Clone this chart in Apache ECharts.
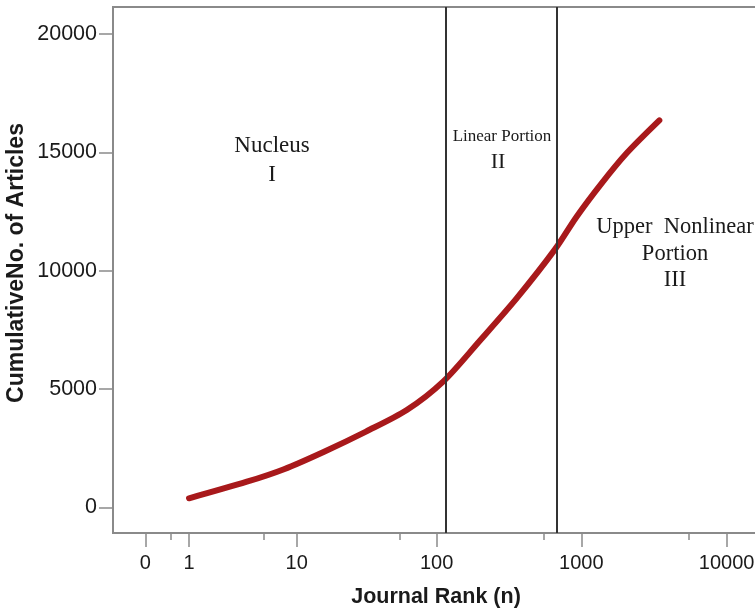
<!DOCTYPE html>
<html>
<head>
<meta charset="utf-8">
<script src="https://cdn.jsdelivr.net/npm/echarts@6/dist/echarts.min.js"></script>
<style>html,body{margin:0;padding:0;background:#fff;}#c{width:755px;height:608px;}</style>
</head>
<body>
<div id="c"></div>
<script>
// Journal rank (n) and cumulative number of articles
const ranks = [1, 4, 8, 16, 32, 62, 111, 200, 359, 660, 930, 1383, 2055, 3443];
const articles = [380, 1080, 1610, 2350, 3200, 4110, 5310, 7050, 8840, 10910, 12290, 13700, 14970, 16350];
const xTickLabels = [0, 1, 10, 100, 1000, 10000];
const xMinorTicks = [0.5, 5.5, 55, 550, 5500];
const yTickLabels = [0, 5000, 10000, 15000, 20000];
const zoneBoundaries = [116, 670];
const xAxisTitle = 'Journal Rank (n)';
const yAxisTitle = 'CumulativeNo. of Articles';

const t = n => Math.log10(n + 1);
const seriesData = ranks.map((r, i) => [t(r), articles[i]]);

const chart = echarts.init(document.getElementById('c'), null, {renderer: 'canvas'});
const axisColor = '#8a8a8a';
const labelFont = {fontFamily: 'Liberation Sans, Arial, sans-serif', fontSize: 20, color: '#1a1a1a'};
const xMin = -0.2222, xMax = 4.3329;

chart.setOption({
  animation: false,
  backgroundColor: '#ffffff',
  grid: {left: 113, right: -20, top: 7, bottom: 75, containLabel: false, outerBoundsMode: 'none',
         show: true, borderColor: axisColor, borderWidth: 2},
  xAxis: [{
    type: 'value', min: xMin, max: xMax, position: 'bottom',
    axisLine: {show: true, onZero: false, lineStyle: {color: axisColor, width: 2}},
    axisTick: {show: true, length: 14, customValues: xTickLabels.map(t), lineStyle: {color: axisColor, width: 1.5}},
    axisLabel: Object.assign({margin: 20, customValues: xTickLabels.map(t),
      formatter: v => String(Math.round(Math.pow(10, v) - 1))}, labelFont),
    splitLine: {show: false}
  }, {
    type: 'value', min: xMin, max: xMax, position: 'bottom',
    axisLine: {show: false, onZero: false},
    axisTick: {show: true, length: 7, customValues: xMinorTicks.map(t), lineStyle: {color: axisColor, width: 1.5}},
    axisLabel: {show: false},
    splitLine: {show: false}
  }],
  yAxis: {
    type: 'value', min: -1087, max: 21142,
    axisLine: {show: true, onZero: false, lineStyle: {color: axisColor, width: 2}},
    axisTick: {show: true, length: 14, customValues: yTickLabels, lineStyle: {color: axisColor, width: 1.5}},
    axisLabel: Object.assign({margin: 16, customValues: yTickLabels, formatter: v => String(v)}, labelFont, {fontSize: 21.5}),
    splitLine: {show: false}
  },
  series: [{
    type: 'line', xAxisIndex: 0, data: seriesData, smooth: 0.3, symbol: 'none',
    lineStyle: {color: '#a8191b', width: 6, cap: 'round'},
    z: 3,
    markLine: {
      silent: true, symbol: 'none', label: {show: false},
      lineStyle: {color: '#333333', width: 2, type: 'solid'},
      data: zoneBoundaries.map(b => ({xAxis: t(b)}))
    }
  }],
  graphic: [
    {type: 'text', x: 436, y: 597, style: {text: xAxisTitle, align: 'center', verticalAlign: 'middle',
      font: 'bold 21.5px "Liberation Sans", Arial, sans-serif', fill: '#1a1a1a'}},
    {type: 'text', x: 17, y: 263, rotation: Math.PI / 2, style: {text: yAxisTitle, align: 'center', verticalAlign: 'middle',
      font: 'bold 23px "Liberation Sans", Arial, sans-serif', fill: '#1a1a1a'}},
    {type: 'text', x: 272, y: 160, style: {text: 'Nucleus\nI', align: 'center', verticalAlign: 'middle', lineHeight: 29,
      font: '23px "Liberation Serif", "Times New Roman", serif', fill: '#1a1a1a'}},
    {type: 'text', x: 502, y: 137, style: {text: 'Linear Portion', align: 'center', verticalAlign: 'middle',
      font: '17px "Liberation Serif", "Times New Roman", serif', fill: '#1a1a1a'}},
    {type: 'text', x: 498, y: 162, style: {text: 'II', align: 'center', verticalAlign: 'middle',
      font: '22px "Liberation Serif", "Times New Roman", serif', fill: '#1a1a1a'}},
    {type: 'text', x: 675, y: 254, style: {text: 'Upper  Nonlinear\nPortion\nIII', align: 'center', verticalAlign: 'middle', lineHeight: 26.5,
      font: '22.5px "Liberation Serif", "Times New Roman", serif', fill: '#1a1a1a'}}
  ]
});
</script>
</body>
</html>
